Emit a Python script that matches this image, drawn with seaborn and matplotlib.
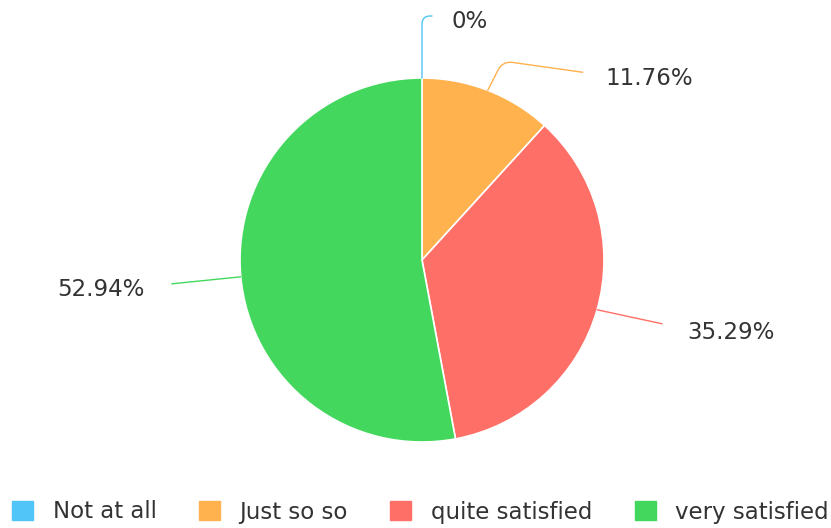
import matplotlib.pyplot as plt
import seaborn as sns
import numpy as np
from matplotlib.patches import Patch

sns.set_style("white")
plt.rcParams['font.family'] = ['DejaVu Sans']

# ====================== DATA ======================
categories = ['Not at all', 'Just so so', 'quite satisfied', 'very satisfied']
shares = [0, 11.76, 35.29, 52.94]
labels = ['0%', '11.76%', '35.29%', '52.94%']
colors = ['#51c4f8', '#ffb24d', '#fe7067', '#43d85d']

# ====================== PLOT ======================
W, H = 831, 528
fig = plt.figure(figsize=(W / 100, H / 100), dpi=100)
ax = fig.add_axes([0, 0, 1, 1])

cx, cy, r = 422, H - 260, 182
wedges, _ = ax.pie(shares, colors=colors, startangle=90, counterclock=False,
                   center=(cx, cy), radius=r, frame=True,
                   wedgeprops=dict(edgecolor='white', linewidth=1.2))
ax.set_xlim(0, W)
ax.set_ylim(0, H)
ax.axis('off')

# leader line end (offset from anchor), text offset, connection style
leaders = [
    ((10, 62), (48, 56), "angle,angleA=0,angleB=90,rad=8"),
    ((95, 18), (162, 12), "angle,angleA=-8,angleB=63,rad=10"),
    ((65, -14), (134, -23), "arc3,rad=0"),
    ((-69, -7), (-140, -13), "arc3,rad=0"),
]

for w, lab, col, (lend, toff, cs) in zip(wedges, labels, colors, leaders):
    mid = np.deg2rad((w.theta1 + w.theta2) / 2)
    px, py = cx + r * np.cos(mid), cy + r * np.sin(mid)
    ax.annotate('', xy=(px, py), xytext=(px + lend[0], py + lend[1]),
                arrowprops=dict(arrowstyle='-', color=col, lw=1.0,
                                connectionstyle=cs, shrinkA=0, shrinkB=0))
    ax.text(px + toff[0], py + toff[1], lab, ha='center', va='center',
            fontsize=16.5, color='#333333')

handles = [Patch(facecolor=c, edgecolor=c, label=l) for c, l in zip(colors, categories)]
fig.legend(handles=handles, ncol=4, loc='center', bbox_to_anchor=(0.506, 1 - 512 / H),
           frameon=False, fontsize=16.5, handlelength=0.92, handleheight=0.92,
           handletextpad=0.85, columnspacing=1.85, labelcolor='#333333',
           borderaxespad=0, borderpad=0)

plt.savefig('out.png', dpi=100)
